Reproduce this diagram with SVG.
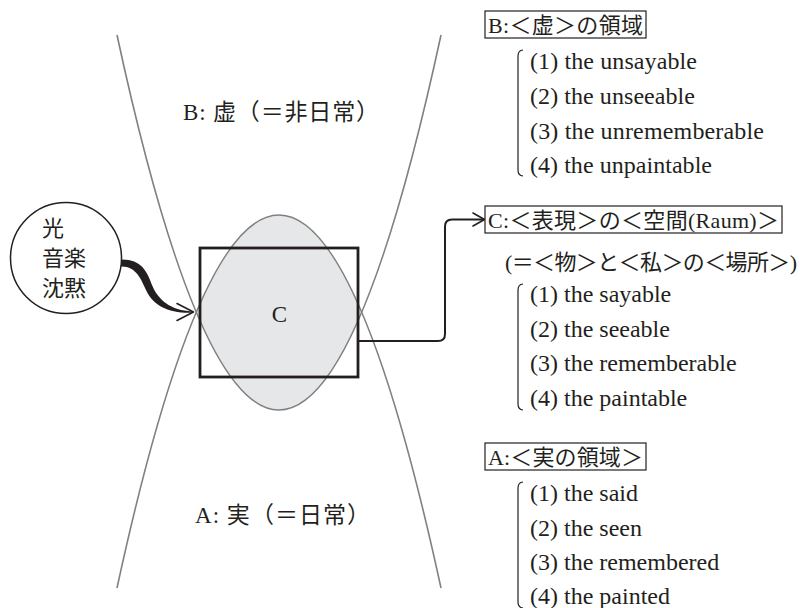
<svg xmlns="http://www.w3.org/2000/svg" width="800" height="608" viewBox="0 0 800 608">
<style>
.t{font-family:"Liberation Serif","Noto Sans CJK JP",serif;fill:#231f20}
.curve{fill:none;stroke:#808080;stroke-width:1.6}
.lens{fill:#e6e7e8}
.frame{fill:none;stroke:#231f20;stroke-width:2.8}
.box{fill:#fff;stroke:#231f20;stroke-width:1.2}
.brk{fill:none;stroke:#231f20;stroke-width:1.2}
.conn{fill:none;stroke:#231f20;stroke-width:2}
.arr{fill:none;stroke:#231f20;stroke-width:1.6;stroke-linecap:round;stroke-linejoin:round}
.li{font-size:24px}
.bx{font-size:22px}
</style>
<rect width="800" height="608" fill="#fff"/>

<g id="regions">
  <path id="lensC" class="lens" d="M196.3,312.2 Q279,117.8 361.7,312.2 Q279,507.8 196.3,312.2 Z"/>
  <path id="curveA" class="curve" d="M117,35 Q279,785 441,35"/>
  <path id="curveB" class="curve" d="M117,588 Q279,-158 441,588"/>
  <text class="t" x="183" y="120" font-size="23" textLength="196">B: 虚（＝非日常）</text>
  <text class="t" x="195" y="523" font-size="23" textLength="175">A: 実（＝日常）</text>
</g>

<g id="nodeC">
  <rect class="frame" x="200" y="248" width="158" height="129"/>
  <text class="t" x="279.5" y="322" font-size="23" text-anchor="middle">C</text>
</g>

<g id="nodeLight">
  <circle cx="66" cy="258" r="55.5" fill="#fff" stroke="#231f20" stroke-width="1.5"/>
  <text class="t" font-size="22" x="42" y="236">光</text>
  <text class="t" font-size="22" x="42" y="266">音楽</text>
  <text class="t" font-size="22" x="42" y="296">沈黙</text>
</g>

<g id="connectors">
  <path fill="#231f20" d="M121,259.5 C141,259 147,271 152,285 C158,300 171,310.5 192,311.4 L192,312.8 C168,313.5 153,305 146.5,291 C141,279 136,266 121,266.5 Z"/>
  <path class="arr" d="M177,303.5 L193.5,312 L177,320.5"/>
  <path class="conn" d="M358,341 H438 Q445,341 445,334 V226.5 Q445,219.5 452,219.5 H484"/>
  <path class="arr" d="M473,213 L484.5,219.5 L473,226"/>
</g>

<g id="legendB">
  <rect class="box" x="485" y="11" width="161" height="27"/>
  <text class="t bx" x="488" y="32.5" textLength="155">B:＜虚＞の領域</text>
  <path class="brk" d="M523,50 Q518,50.5 518,56 V170 Q518,175.5 523,176"/>
  <text class="t li" x="530" y="69" textLength="167">(1) the unsayable</text>
  <text class="t li" x="530" y="104" textLength="165">(2) the unseeable</text>
  <text class="t li" x="530" y="139" textLength="234">(3) the unrememberable</text>
  <text class="t li" x="530" y="173" textLength="182">(4) the unpaintable</text>
</g>

<g id="legendC">
  <rect class="box" x="485" y="206" width="297" height="27"/>
  <text class="t bx" x="488" y="227.5" textLength="291">C:＜表現＞の＜空間(Raum)＞</text>
  <text class="t bx" x="505" y="270" textLength="292">(＝＜物＞と＜私＞の＜場所＞)</text>
  <path class="brk" d="M523,284 Q518,284.5 518,290 V404 Q518,409.5 523,410"/>
  <text class="t li" x="530" y="302">(1) the sayable</text>
  <text class="t li" x="530" y="336.5">(2) the seeable</text>
  <text class="t li" x="530" y="371">(3) the rememberable</text>
  <text class="t li" x="530" y="405.5">(4) the paintable</text>
</g>

<g id="legendA">
  <rect class="box" x="485" y="443" width="161" height="27"/>
  <text class="t bx" x="488" y="464.5" textLength="155">A:＜実の領域＞</text>
  <path class="brk" d="M523,482 Q518,482.5 518,488 V602 Q518,607.5 523,608"/>
  <text class="t li" x="530" y="501">(1) the said</text>
  <text class="t li" x="530" y="536">(2) the seen</text>
  <text class="t li" x="530" y="570">(3) the remembered</text>
  <text class="t li" x="530" y="604">(4) the painted</text>
</g>
</svg>
